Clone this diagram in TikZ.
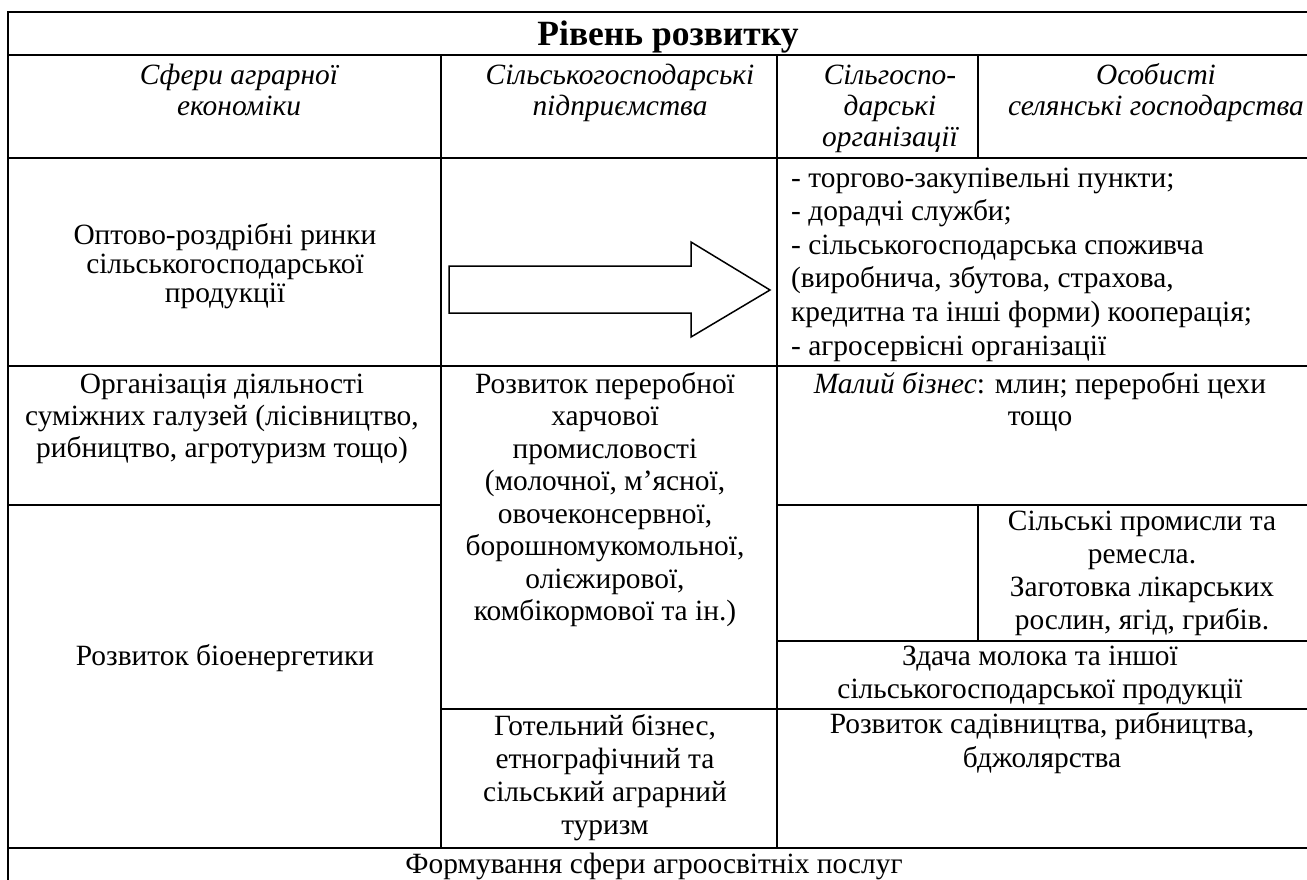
\documentclass[tikz,border=0pt]{standalone}
\usepackage{fontspec}
\setmainfont{Liberation Serif}
\begin{document}
% note: for multi-line nodes the base anchor is the baseline of the LAST line
\begin{tikzpicture}[x=1pt,y=-1pt,
  rule/.style={line width=2pt, line cap=rect},
  thinrule/.style={line width=1.4pt},
  cell/.style={inner sep=0pt, align=center, anchor=base, font=\fontsize{29.4}{32}\selectfont},
  hcell/.style={cell, font=\fontsize{29.4}{31}\selectfont\itshape},
  bigarrow/.style={line width=1.5pt, line join=miter}]
\useasboundingbox (0,0) rectangle (1307,879);
\clip (0,0) rectangle (1307,879);
% grid
\draw[rule] (8,12) -- (1320,12);
\draw[rule] (8,55) -- (1320,55);
\draw[rule] (8,158) -- (1320,158);
\draw[rule] (8,366) -- (1320,366);
\draw[rule] (8,505) -- (441,505);
\draw[rule] (777,505) -- (1320,505);
\draw[rule] (777,641) -- (1320,641);
\draw[rule] (441,709) -- (1320,709);
\draw[rule] (8,848) -- (1320,848);
\draw[rule] (8,12) -- (8,890);
\draw[rule] (441,55) -- (441,848);
\draw[rule] (777,55) -- (777,848);
\draw[thinrule] (978,55) -- (978,158);
\draw[thinrule] (978,505) -- (978,641);
% arrow
\draw[bigarrow] (449,266) -- (691,266) -- (691,242) -- (770,290) -- (691,337) -- (691,313) -- (449,313) -- cycle;
% title
\node[cell, font=\fontsize{35.5}{40}\selectfont\bfseries] (title) at (668,45) {Рівень розвитку};
% header
\node[hcell] (h1) at (239,115) {Сфери аграрної\\економіки};
\node[hcell] (h2) at (620,115) {Сільськогосподарські\\підприємства};
\node[hcell] (h3) at (890,146) {Сільгоспо-\\дарські\\організації};
\node[hcell] (h4) at (1156,115) {Особисті\\селянські господарства};
% body
\node[cell, font=\fontsize{29.4}{29}\selectfont] (opt) at (225,302) {Оптово-роздрібні ринки\\сільськогосподарської\\продукції};
\node[cell, anchor=base west, align=left, font=\fontsize{29.4}{33.6}\selectfont] (list) at (791,355) {- торгово-закупівельні пункти;\\- дорадчі служби;\\- сільськогосподарська споживча\\(виробнича, збутова, страхова,\\кредитна та інші форми) кооперація;\\- агросервісні організації};
\node[cell] (org) at (222,457) {Організація діяльності\\суміжних галузей (лісівництво,\\рибництво, агротуризм тощо)};
\node[cell, font=\fontsize{29.4}{32.5}\selectfont] (proc) at (605,620.5) {Розвиток переробної\\харчової\\промисловості\\(молочної, м’ясної,\\овочеконсервної,\\борошномукомольної,\\олієжирової,\\комбікормової та ін.)};
\node[cell] (small) at (1040,425) {\textit{Малий бізнес}: млин; переробні цехи\\тощо};
\node[cell, font=\fontsize{29.4}{33}\selectfont] (craft) at (1142,629) {Сільські промисли та\\ремесла.\\Заготовка лікарських\\рослин, ягід, грибів.};
\node[cell, font=\fontsize{29.4}{33}\selectfont] (milk) at (1040,698) {Здача молока та іншої\\сільськогосподарської продукції};
\node[cell] (bio) at (225,665) {Розвиток біоенергетики};
\node[cell, font=\fontsize{29.4}{33}\selectfont] (hotel) at (605,834) {Готельний бізнес,\\етнографічний та\\сільський аграрний\\туризм};
\node[cell, font=\fontsize{29.4}{34}\selectfont] (garden) at (1042,767) {Розвиток садівництва, рибництва,\\бджолярства};
\node[cell] (edu) at (654,873) {Формування сфери агроосвітніх послуг};
\end{tikzpicture}
\end{document}
